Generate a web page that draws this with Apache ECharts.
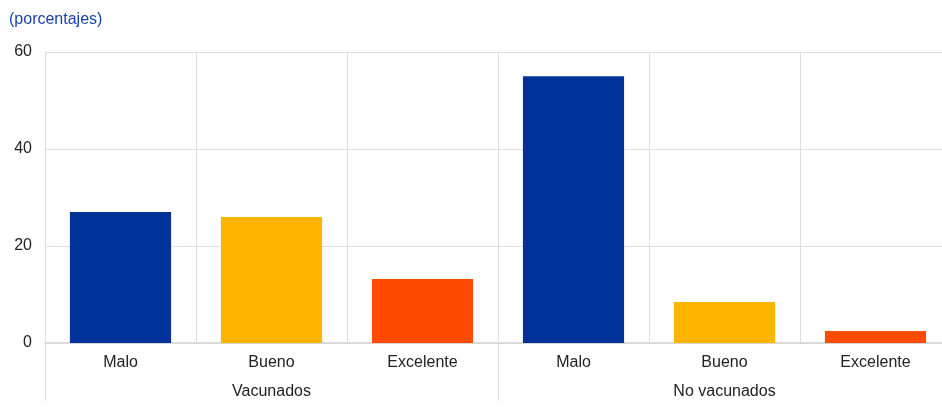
<!DOCTYPE html>
<html>
<head>
<meta charset="utf-8">
<script src="https://cdn.jsdelivr.net/npm/echarts@6/dist/echarts.min.js"></script>
<style>
  html, body { margin: 0; padding: 0; background: #fff; overflow: hidden; }
  /* the plot runs slightly past the right edge of the window */
  #chart { width: 951px; height: 407px; }
</style>
</head>
<body>
<div id="chart"></div>
<script>
// Opinión por grupo de vacunación (porcentajes)
const categories = ['Malo', 'Bueno', 'Excelente', 'Malo', 'Bueno', 'Excelente'];
const groups = ['Vacunados', 'No vacunados'];
const values = [27.0, 26.0, 13.2, 55.0, 8.45, 2.5];
const yTicks = [0, 20, 40, 60];

const palette = { 'Malo': '#003299', 'Bueno': '#ffb400', 'Excelente': '#ff4b00' };
const font = 'Arial, "Liberation Sans", sans-serif';
const gridColor = '#dedede';

const chart = echarts.init(document.getElementById('chart'), null, { renderer: 'canvas' });
chart.setOption({
  animation: false,
  title: {
    text: '(porcentajes)',
    left: 4, top: 7,
    textStyle: { fontFamily: font, fontSize: 16, fontWeight: 'normal', color: '#1a44a8' }
  },
  grid: { left: 45, top: 52, right: 0, height: 291 },
  xAxis: [
    {
      type: 'category',
      data: categories,
      position: 'bottom',
      axisLine: { show: true, lineStyle: { color: '#d4d4d4', width: 1.5 } },
      axisTick: { show: false },
      splitLine: { show: true, interval: 0, lineStyle: { color: gridColor, width: 1 } },
      axisLabel: { interval: 0, margin: 12, fontFamily: font, fontSize: 16, color: '#222' }
    },
    {
      type: 'category',
      data: groups,
      position: 'bottom',
      axisLine: { show: false },
      axisTick: { show: true, interval: 0, length: 58, lineStyle: { color: gridColor, width: 1 } },
      splitLine: { show: false },
      axisLabel: { interval: 0, margin: 41, fontFamily: font, fontSize: 16, color: '#222' }
    }
  ],
  yAxis: {
    type: 'value',
    min: yTicks[0],
    max: yTicks[yTicks.length - 1],
    interval: yTicks[1] - yTicks[0],
    axisLine: { show: true, lineStyle: { color: gridColor } },
    axisTick: { show: false },
    splitLine: { show: true, lineStyle: { color: gridColor } },
    axisLabel: { margin: 13, fontFamily: font, fontSize: 16, color: '#222' }
  },
  series: [{
    type: 'bar',
    xAxisIndex: 0,
    barWidth: '67%',
    data: values.map((v, i) => ({ value: v, itemStyle: { color: palette[categories[i]] } }))
  }]
});
</script>
</body>
</html>
